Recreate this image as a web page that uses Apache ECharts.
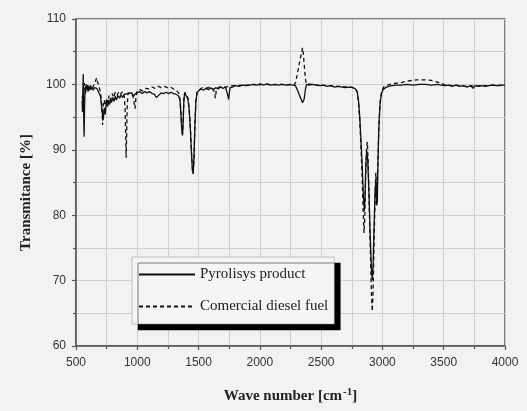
<!DOCTYPE html>
<html>
<head>
<meta charset="utf-8">
<script src="https://cdn.jsdelivr.net/npm/echarts@6/dist/echarts.min.js"></script>
<style>
  html, body { margin: 0; padding: 0; background: #f2f2f2; }
  #chart { width: 527px; height: 411px; }
</style>
</head>
<body>
<div id="chart"></div>
<script>
// FTIR spectra: wave number [cm-1] vs transmitance [%]
const seriesNames = ['Pyrolisys product', 'Comercial diesel fuel'];
const xTicks = [500, 1000, 1500, 2000, 2500, 3000, 3500, 4000];
const yTicks = [60, 70, 80, 90, 100, 110];

const pyrolysisProduct = [
  [550,97.5],[553,95.8],[556,99],[559,101.6],[562,96],[566,92],[570,96.5],[574,99.6],[578,98.6],[583,100],
  [588,99.2],[593,99.9],[598,98.9],[604,99.7],[610,99.1],[616,99.8],[622,99.2],[630,99.6],[640,99.1],[650,99.5],
  [660,99.2],[670,99.4],[680,99.0],[690,98.8],[700,98.2],[706,97.0],[712,96.0],[718,95.2],[722,94.6],[727,95.6],
  [732,96.4],[738,95.4],[744,96.6],[750,97.4],[758,96.6],[766,97.6],[774,96.9],[782,97.8],[790,97.2],[800,98.0],
  [810,97.4],[820,98.2],[830,97.6],[842,98.3],[855,97.9],[868,98.4],[880,98.0],[895,98.5],[910,98.2],[925,98.6],
  [940,98.3],[955,98.7],[970,98.2],[985,98.6],[1000,98.7],[1020,98.9],[1040,98.6],[1060,98.9],[1080,98.7],[1100,98.9],
  [1120,98.6],[1140,98.5],[1155,98.0],[1165,97.8],[1178,98.4],[1195,98.7],[1215,98.6],[1235,98.8],[1255,98.6],[1275,98.8],
  [1295,98.6],[1315,98.5],[1335,98.3],[1348,97.6],[1356,95.5],[1363,93.0],[1369,92.2],[1374,94.0],[1380,97.5],[1386,98.7],
  [1394,98.9],[1402,98.6],[1412,97.8],[1422,96.4],[1432,93.5],[1442,89.5],[1450,86.8],[1456,86.3],[1462,88.5],[1470,93.5],
  [1478,97.3],[1488,98.8],[1500,99.1],[1520,99.3],[1540,99.1],[1560,99.4],[1580,99.2],[1600,99.5],[1620,99.2],[1640,99.5],
  [1660,99.3],[1680,99.6],[1700,99.4],[1720,99.6],[1733,99.3],[1740,98.2],[1745,97.7],[1750,98.6],[1758,99.5],[1780,99.6],
  [1800,99.8],[1830,99.7],[1860,99.9],[1890,99.8],[1920,99.9],[1950,100.0],[1980,99.9],[2000,100.1],[2030,99.9],[2060,100.1],
  [2090,99.9],[2120,100.0],[2150,99.9],[2180,100.0],[2210,99.9],[2240,100.0],[2270,99.9],[2290,99.8],[2305,99.2],[2320,98.5],
  [2335,97.8],[2348,97.2],[2355,97.0],[2362,97.8],[2372,99.3],[2382,100.0],[2400,99.9],[2430,100.0],[2460,99.9],[2490,99.8],
  [2520,99.9],[2550,99.7],[2580,99.8],[2610,99.6],[2640,99.7],[2670,99.6],[2700,99.5],[2730,99.6],[2760,99.5],[2780,99.3],
  [2795,98.8],[2805,97.5],[2815,95.0],[2825,91.5],[2835,87.5],[2845,83.0],[2852,80.6],[2858,82.5],[2865,88.0],[2872,89.8],
  [2880,88.5],[2890,83.5],[2900,77.0],[2910,72.0],[2917,70.1],[2924,72.5],[2932,78.5],[2940,83.5],[2947,85.5],[2953,81.5],
  [2958,82.0],[2963,87.5],[2970,93.0],[2980,97.0],[2992,98.6],[3005,99.2],[3025,99.5],[3050,99.7],[3080,99.8],[3110,99.9],
  [3150,99.9],[3200,100.0],[3250,99.9],[3300,100.0],[3350,100.0],[3400,99.9],[3450,100.0],[3480,99.9],[3510,99.8],[3540,99.9],
  [3570,99.7],[3600,99.9],[3630,99.7],[3660,99.8],[3690,99.6],[3720,99.8],[3740,99.4],[3755,99.8],[3780,99.7],[3810,99.8],
  [3840,99.7],[3870,99.8],[3900,99.9],[3930,99.8],[3960,99.9],[4000,99.9]
];

const dieselFuel = [
  [550,98.2],[556,97.5],[562,99.3],[568,100.2],[574,99.2],[580,99.8],[590,99.4],[600,99.9],[612,99.4],[624,99.9],
  [636,99.5],[648,100.0],[660,100.3],[668,101.0],[674,100.5],[682,100.2],[692,99.4],[700,98.8],[706,97.8],[712,96.5],
  [717,93.8],[722,96.8],[730,97.6],[740,96.8],[750,97.9],[760,97.2],[770,98.3],[782,97.6],[795,98.6],[808,98.0],
  [820,98.8],[835,98.3],[850,98.9],[865,98.5],[880,98.9],[893,98.3],[900,96.5],[905,92.5],[909,88.8],[913,92.0],
  [918,96.8],[925,98.7],[940,98.9],[955,98.6],[968,98.0],[976,97.0],[982,96.3],[988,97.8],[998,99.0],[1020,99.2],
  [1045,99.0],[1070,99.4],[1095,99.3],[1120,99.6],[1145,99.4],[1170,99.7],[1195,99.5],[1220,99.7],[1245,99.5],[1270,99.6],
  [1295,99.3],[1320,99.1],[1340,98.6],[1350,97.5],[1358,95.0],[1364,92.8],[1369,92.4],[1374,94.3],[1380,97.6],[1388,98.8],
  [1396,99.0],[1404,98.7],[1414,97.9],[1424,96.2],[1434,93.2],[1443,89.4],[1451,86.9],[1456,86.5],[1462,88.7],[1470,93.8],
  [1478,97.6],[1490,99.0],[1505,99.3],[1530,99.5],[1560,99.4],[1590,99.6],[1615,99.3],[1630,98.8],[1637,97.9],[1644,99.0],
  [1660,99.5],[1690,99.7],[1720,99.6],[1750,99.7],[1780,99.8],[1820,99.8],[1860,99.9],[1900,99.9],[1940,100.0],[1980,99.9],
  [2020,100.0],[2060,100.0],[2100,99.9],[2140,100.0],[2180,100.0],[2220,99.9],[2260,100.0],[2280,99.9],[2292,100.3],[2305,101.5],
  [2318,102.8],[2330,104.0],[2340,104.8],[2348,105.6],[2354,104.8],[2362,103.0],[2370,101.2],[2378,100.1],[2390,99.9],[2420,100.0],
  [2460,99.9],[2500,99.9],[2540,99.8],[2580,99.8],[2620,99.7],[2660,99.7],[2700,99.6],[2740,99.6],[2780,99.4],[2795,98.8],
  [2805,97.2],[2815,94.5],[2825,90.5],[2835,85.5],[2843,80.5],[2850,77.3],[2856,79.5],[2863,86.0],[2871,90.5],[2877,91.2],
  [2884,88.0],[2893,81.0],[2903,73.5],[2911,67.5],[2917,65.3],[2924,68.5],[2932,76.0],[2940,82.5],[2946,86.5],[2952,83.0],
  [2958,84.5],[2964,89.0],[2972,94.0],[2982,97.5],[2995,99.0],[3010,99.6],[3040,99.9],[3080,100.1],[3120,100.2],[3160,100.3],
  [3200,100.5],[3240,100.6],[3280,100.7],[3320,100.7],[3360,100.7],[3400,100.6],[3440,100.4],[3480,100.2],[3510,99.9],[3540,99.9],
  [3570,99.8],[3600,99.9],[3640,99.8],[3680,99.7],[3720,99.8],[3760,99.7],[3800,99.8],[3850,99.8],[3900,99.9],[3950,99.8],
  [4000,99.9]
];

const chart = echarts.init(document.getElementById('chart'), null, { renderer: 'canvas' });

const axisColor = '#555';
const gridColor = '#cfcfcf';
const serif = 'Liberation Serif, Times New Roman, serif';
const labelFont = { color: '#333', fontSize: 12, fontFamily: 'Liberation Sans, Arial, sans-serif' };
const titleFont = { color: '#222', fontSize: 15, fontWeight: 'bold', fontFamily: serif };

function plainNumber(v) { return String(v); }

chart.setOption({
  backgroundColor: '#f2f2f2',
  animation: false,
  grid: {
    left: 76, right: 22, top: 19, bottom: 65,
    show: true, borderColor: axisColor, borderWidth: 1.5, backgroundColor: 'transparent'
  },
  legend: {
    orient: 'vertical',
    left: 132, top: 257,
    padding: [10, 6, 10, 6],
    itemWidth: 56, itemHeight: 14, itemGap: 17,
    backgroundColor: '#f5f5f5',
    borderColor: '#888', borderWidth: 0.5,
    shadowColor: '#000', shadowBlur: 0, shadowOffsetX: 6, shadowOffsetY: 6,
    itemStyle: { opacity: 0 },
    textStyle: { color: '#222', fontSize: 15, fontFamily: serif },
    data: seriesNames
  },
  xAxis: {
    type: 'value', min: xTicks[0], max: xTicks[xTicks.length - 1], interval: 500,
    name: 'Wave number [cm{sup|-1}]',
    nameLocation: 'middle', nameGap: 41,
    nameTextStyle: Object.assign({}, titleFont, {
      rich: { sup: { fontSize: 11, fontWeight: 'bold', fontFamily: serif, color: '#222', verticalAlign: 'top', padding: [0, 0, 8, 1] } }
    }),
    axisLine: { show: true, onZero: false, lineStyle: { color: axisColor, width: 1.5 } },
    axisTick: { show: true, inside: false, length: 4, lineStyle: { color: axisColor, width: 1.2 } },
    minorTick: { show: true, splitNumber: 2, length: 3, lineStyle: { color: axisColor, width: 1.2 } },
    splitLine: { show: true, lineStyle: { color: gridColor, width: 1 } },
    minorSplitLine: { show: true, lineStyle: { color: gridColor, width: 1 } },
    axisLabel: Object.assign({ margin: 11, formatter: plainNumber }, labelFont)
  },
  yAxis: {
    type: 'value', min: yTicks[0], max: yTicks[yTicks.length - 1], interval: 10,
    name: 'Transmitance [%]',
    nameLocation: 'middle', nameGap: 42,
    nameTextStyle: Object.assign({ padding: [0, 20, 0, 0] }, titleFont),
    axisLine: { show: true, onZero: false, lineStyle: { color: axisColor, width: 1.5 } },
    axisTick: { show: true, inside: false, length: 4, lineStyle: { color: axisColor, width: 1.2 } },
    minorTick: { show: true, splitNumber: 2, length: 3, lineStyle: { color: axisColor, width: 1.2 } },
    splitLine: { show: true, lineStyle: { color: gridColor, width: 1 } },
    minorSplitLine: { show: true, lineStyle: { color: gridColor, width: 1 } },
    axisLabel: Object.assign({ margin: 10, formatter: plainNumber }, labelFont)
  },
  series: [
    {
      name: seriesNames[0], type: 'line', data: pyrolysisProduct,
      symbol: 'none', smooth: false,
      lineStyle: { color: '#111', width: 1.3, type: 'solid' },
      itemStyle: { color: '#111' }
    },
    {
      name: seriesNames[1], type: 'line', data: dieselFuel,
      symbol: 'none', smooth: false,
      lineStyle: { color: '#111', width: 1.3, type: [4, 3] },
      itemStyle: { color: '#111' }
    }
  ]
});
</script>
</body>
</html>
